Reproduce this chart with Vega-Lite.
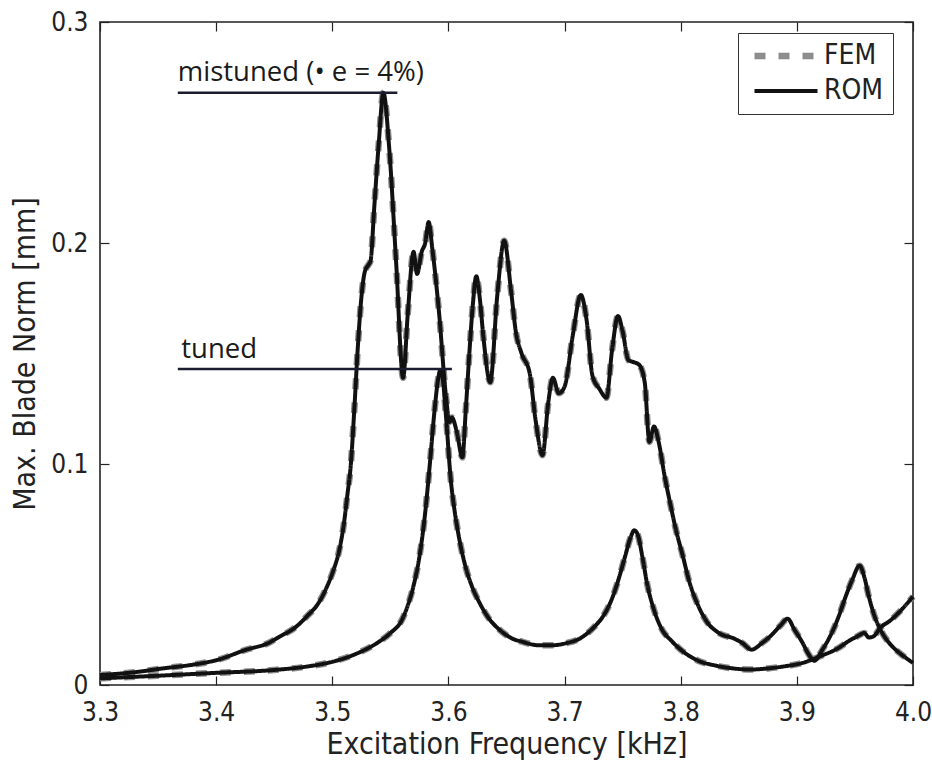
{
  "$schema": "https://vega.github.io/schema/vega-lite/v6.json",
  "width": 813,
  "height": 663,
  "autosize": {"type": "none"},
  "padding": {"left": 100, "top": 22, "right": 19, "bottom": 82},
  "background": "white",
  "config": {
    "view": {"stroke": "#222222", "strokeWidth": 1.6},
    "font": "DejaVu Sans Condensed",
    "axis": {
      "domain": false,
      "grid": false,
      "ticks": true,
      "tickColor": "#222222",
      "tickWidth": 1.2,
      "labelFont": "DejaVu Sans Condensed",
      "labelFontSize": 26,
      "labelColor": "#222222",
      "titleFont": "DejaVu Sans Condensed",
      "titleFontSize": 30,
      "titleFontWeight": "normal",
      "titleColor": "#222222"
    }
  },
  "datasets": {
    "curves": [
      {"curve": "tuned", "f": 3.300, "v": 0.0030},
      {"curve": "tuned", "f": 3.350, "v": 0.0042},
      {"curve": "tuned", "f": 3.400, "v": 0.0055},
      {"curve": "tuned", "f": 3.450, "v": 0.0068},
      {"curve": "tuned", "f": 3.480, "v": 0.0085},
      {"curve": "tuned", "f": 3.500, "v": 0.0105},
      {"curve": "tuned", "f": 3.520, "v": 0.0140},
      {"curve": "tuned", "f": 3.540, "v": 0.0195},
      {"curve": "tuned", "f": 3.550, "v": 0.0235},
      {"curve": "tuned", "f": 3.560, "v": 0.0295},
      {"curve": "tuned", "f": 3.565, "v": 0.0360},
      {"curve": "tuned", "f": 3.570, "v": 0.0450},
      {"curve": "tuned", "f": 3.575, "v": 0.0580},
      {"curve": "tuned", "f": 3.580, "v": 0.0780},
      {"curve": "tuned", "f": 3.584, "v": 0.1000},
      {"curve": "tuned", "f": 3.588, "v": 0.1240},
      {"curve": "tuned", "f": 3.591, "v": 0.1380},
      {"curve": "tuned", "f": 3.593, "v": 0.1425},
      {"curve": "tuned", "f": 3.595, "v": 0.1390},
      {"curve": "tuned", "f": 3.598, "v": 0.1210},
      {"curve": "tuned", "f": 3.602, "v": 0.0930},
      {"curve": "tuned", "f": 3.605, "v": 0.0800},
      {"curve": "tuned", "f": 3.608, "v": 0.0700},
      {"curve": "tuned", "f": 3.615, "v": 0.0530},
      {"curve": "tuned", "f": 3.620, "v": 0.0450},
      {"curve": "tuned", "f": 3.627, "v": 0.0370},
      {"curve": "tuned", "f": 3.635, "v": 0.0300},
      {"curve": "tuned", "f": 3.644, "v": 0.0250},
      {"curve": "tuned", "f": 3.655, "v": 0.0210},
      {"curve": "tuned", "f": 3.664, "v": 0.0195},
      {"curve": "tuned", "f": 3.677, "v": 0.0180},
      {"curve": "tuned", "f": 3.690, "v": 0.0180},
      {"curve": "tuned", "f": 3.702, "v": 0.0190},
      {"curve": "tuned", "f": 3.713, "v": 0.0210},
      {"curve": "tuned", "f": 3.725, "v": 0.0260},
      {"curve": "tuned", "f": 3.733, "v": 0.0310},
      {"curve": "tuned", "f": 3.740, "v": 0.0380},
      {"curve": "tuned", "f": 3.746, "v": 0.0470},
      {"curve": "tuned", "f": 3.752, "v": 0.0580},
      {"curve": "tuned", "f": 3.757, "v": 0.0670},
      {"curve": "tuned", "f": 3.760, "v": 0.0700},
      {"curve": "tuned", "f": 3.763, "v": 0.0680},
      {"curve": "tuned", "f": 3.767, "v": 0.0580},
      {"curve": "tuned", "f": 3.771, "v": 0.0460},
      {"curve": "tuned", "f": 3.777, "v": 0.0340},
      {"curve": "tuned", "f": 3.784, "v": 0.0250},
      {"curve": "tuned", "f": 3.792, "v": 0.0200},
      {"curve": "tuned", "f": 3.800, "v": 0.0160},
      {"curve": "tuned", "f": 3.815, "v": 0.0110},
      {"curve": "tuned", "f": 3.830, "v": 0.0088},
      {"curve": "tuned", "f": 3.845, "v": 0.0075},
      {"curve": "tuned", "f": 3.860, "v": 0.0070},
      {"curve": "tuned", "f": 3.875, "v": 0.0075},
      {"curve": "tuned", "f": 3.890, "v": 0.0085},
      {"curve": "tuned", "f": 3.905, "v": 0.0100},
      {"curve": "tuned", "f": 3.920, "v": 0.0130},
      {"curve": "tuned", "f": 3.935, "v": 0.0165},
      {"curve": "tuned", "f": 3.945, "v": 0.0200},
      {"curve": "tuned", "f": 3.952, "v": 0.0220},
      {"curve": "tuned", "f": 3.958, "v": 0.0235},
      {"curve": "tuned", "f": 3.962, "v": 0.0215},
      {"curve": "tuned", "f": 3.966, "v": 0.0220},
      {"curve": "tuned", "f": 3.972, "v": 0.0260},
      {"curve": "tuned", "f": 3.980, "v": 0.0290},
      {"curve": "tuned", "f": 3.990, "v": 0.0340},
      {"curve": "tuned", "f": 4.000, "v": 0.0400},
      {"curve": "mistuned", "f": 3.300, "v": 0.0045},
      {"curve": "mistuned", "f": 3.330, "v": 0.0058},
      {"curve": "mistuned", "f": 3.354, "v": 0.0075},
      {"curve": "mistuned", "f": 3.380, "v": 0.0092},
      {"curve": "mistuned", "f": 3.400, "v": 0.0112},
      {"curve": "mistuned", "f": 3.426, "v": 0.0160},
      {"curve": "mistuned", "f": 3.445, "v": 0.0190},
      {"curve": "mistuned", "f": 3.455, "v": 0.0220},
      {"curve": "mistuned", "f": 3.468, "v": 0.0260},
      {"curve": "mistuned", "f": 3.478, "v": 0.0310},
      {"curve": "mistuned", "f": 3.488, "v": 0.0370},
      {"curve": "mistuned", "f": 3.495, "v": 0.0440},
      {"curve": "mistuned", "f": 3.501, "v": 0.0520},
      {"curve": "mistuned", "f": 3.506, "v": 0.0610},
      {"curve": "mistuned", "f": 3.510, "v": 0.0730},
      {"curve": "mistuned", "f": 3.513, "v": 0.0860},
      {"curve": "mistuned", "f": 3.516, "v": 0.1000},
      {"curve": "mistuned", "f": 3.519, "v": 0.1250},
      {"curve": "mistuned", "f": 3.522, "v": 0.1530},
      {"curve": "mistuned", "f": 3.525, "v": 0.1750},
      {"curve": "mistuned", "f": 3.528, "v": 0.1870},
      {"curve": "mistuned", "f": 3.531, "v": 0.1900},
      {"curve": "mistuned", "f": 3.533, "v": 0.1920},
      {"curve": "mistuned", "f": 3.536, "v": 0.2150},
      {"curve": "mistuned", "f": 3.540, "v": 0.2450},
      {"curve": "mistuned", "f": 3.544, "v": 0.2680},
      {"curve": "mistuned", "f": 3.549, "v": 0.2430},
      {"curve": "mistuned", "f": 3.555, "v": 0.1910},
      {"curve": "mistuned", "f": 3.561, "v": 0.1390},
      {"curve": "mistuned", "f": 3.565, "v": 0.1680},
      {"curve": "mistuned", "f": 3.570, "v": 0.1960},
      {"curve": "mistuned", "f": 3.573, "v": 0.1860},
      {"curve": "mistuned", "f": 3.577, "v": 0.1960},
      {"curve": "mistuned", "f": 3.580, "v": 0.2000},
      {"curve": "mistuned", "f": 3.583, "v": 0.2095},
      {"curve": "mistuned", "f": 3.586, "v": 0.1980},
      {"curve": "mistuned", "f": 3.592, "v": 0.1680},
      {"curve": "mistuned", "f": 3.598, "v": 0.1300},
      {"curve": "mistuned", "f": 3.601, "v": 0.1190},
      {"curve": "mistuned", "f": 3.603, "v": 0.1210},
      {"curve": "mistuned", "f": 3.607, "v": 0.1150},
      {"curve": "mistuned", "f": 3.612, "v": 0.1030},
      {"curve": "mistuned", "f": 3.615, "v": 0.1250},
      {"curve": "mistuned", "f": 3.618, "v": 0.1500},
      {"curve": "mistuned", "f": 3.621, "v": 0.1720},
      {"curve": "mistuned", "f": 3.624, "v": 0.1850},
      {"curve": "mistuned", "f": 3.627, "v": 0.1750},
      {"curve": "mistuned", "f": 3.630, "v": 0.1580},
      {"curve": "mistuned", "f": 3.636, "v": 0.1370},
      {"curve": "mistuned", "f": 3.642, "v": 0.1760},
      {"curve": "mistuned", "f": 3.648, "v": 0.2010},
      {"curve": "mistuned", "f": 3.654, "v": 0.1780},
      {"curve": "mistuned", "f": 3.658, "v": 0.1600},
      {"curve": "mistuned", "f": 3.663, "v": 0.1500},
      {"curve": "mistuned", "f": 3.670, "v": 0.1410},
      {"curve": "mistuned", "f": 3.675, "v": 0.1200},
      {"curve": "mistuned", "f": 3.681, "v": 0.1040},
      {"curve": "mistuned", "f": 3.686, "v": 0.1280},
      {"curve": "mistuned", "f": 3.690, "v": 0.1390},
      {"curve": "mistuned", "f": 3.695, "v": 0.1320},
      {"curve": "mistuned", "f": 3.700, "v": 0.1350},
      {"curve": "mistuned", "f": 3.707, "v": 0.1580},
      {"curve": "mistuned", "f": 3.714, "v": 0.1765},
      {"curve": "mistuned", "f": 3.719, "v": 0.1650},
      {"curve": "mistuned", "f": 3.724, "v": 0.1400},
      {"curve": "mistuned", "f": 3.730, "v": 0.1340},
      {"curve": "mistuned", "f": 3.736, "v": 0.1300},
      {"curve": "mistuned", "f": 3.741, "v": 0.1520},
      {"curve": "mistuned", "f": 3.746, "v": 0.1670},
      {"curve": "mistuned", "f": 3.750, "v": 0.1600},
      {"curve": "mistuned", "f": 3.755, "v": 0.1470},
      {"curve": "mistuned", "f": 3.760, "v": 0.1460},
      {"curve": "mistuned", "f": 3.764, "v": 0.1450},
      {"curve": "mistuned", "f": 3.769, "v": 0.1370},
      {"curve": "mistuned", "f": 3.773, "v": 0.1100},
      {"curve": "mistuned", "f": 3.777, "v": 0.1170},
      {"curve": "mistuned", "f": 3.781, "v": 0.1100},
      {"curve": "mistuned", "f": 3.786, "v": 0.0950},
      {"curve": "mistuned", "f": 3.791, "v": 0.0820},
      {"curve": "mistuned", "f": 3.796, "v": 0.0700},
      {"curve": "mistuned", "f": 3.802, "v": 0.0580},
      {"curve": "mistuned", "f": 3.807, "v": 0.0475},
      {"curve": "mistuned", "f": 3.815, "v": 0.0360},
      {"curve": "mistuned", "f": 3.822, "v": 0.0290},
      {"curve": "mistuned", "f": 3.833, "v": 0.0235},
      {"curve": "mistuned", "f": 3.846, "v": 0.0210},
      {"curve": "mistuned", "f": 3.853, "v": 0.0190},
      {"curve": "mistuned", "f": 3.861, "v": 0.0160},
      {"curve": "mistuned", "f": 3.870, "v": 0.0190},
      {"curve": "mistuned", "f": 3.878, "v": 0.0225},
      {"curve": "mistuned", "f": 3.886, "v": 0.0270},
      {"curve": "mistuned", "f": 3.892, "v": 0.0300},
      {"curve": "mistuned", "f": 3.898, "v": 0.0250},
      {"curve": "mistuned", "f": 3.905, "v": 0.0190},
      {"curve": "mistuned", "f": 3.910, "v": 0.0140},
      {"curve": "mistuned", "f": 3.915, "v": 0.0110},
      {"curve": "mistuned", "f": 3.922, "v": 0.0160},
      {"curve": "mistuned", "f": 3.930, "v": 0.0235},
      {"curve": "mistuned", "f": 3.936, "v": 0.0310},
      {"curve": "mistuned", "f": 3.942, "v": 0.0400},
      {"curve": "mistuned", "f": 3.948, "v": 0.0480},
      {"curve": "mistuned", "f": 3.954, "v": 0.0540},
      {"curve": "mistuned", "f": 3.958, "v": 0.0490},
      {"curve": "mistuned", "f": 3.962, "v": 0.0400},
      {"curve": "mistuned", "f": 3.967, "v": 0.0310},
      {"curve": "mistuned", "f": 3.972, "v": 0.0250},
      {"curve": "mistuned", "f": 3.978, "v": 0.0200},
      {"curve": "mistuned", "f": 3.985, "v": 0.0160},
      {"curve": "mistuned", "f": 3.992, "v": 0.0130},
      {"curve": "mistuned", "f": 4.000, "v": 0.0100}
    ],
    "notes": [
      {"label": "mistuned (• e = 4%)", "x1": 3.367, "x2": 3.556, "y": 0.268, "tx": 3.367, "ty": 0.2735},
      {"label": "tuned", "x1": 3.367, "x2": 3.603, "y": 0.143, "tx": 3.370, "ty": 0.148}
    ]
  },
  "layer": [
    {
      "data": {"name": "curves"},
      "mark": {"type": "line", "interpolate": "monotone", "strokeCap": "butt"},
      "encoding": {
        "x": {
          "field": "f", "type": "quantitative",
          "scale": {"domain": [3.3, 4.0], "nice": false, "zero": false},
          "axis": {
            "orient": "bottom",
            "values": [3.3, 3.4, 3.5, 3.6, 3.7, 3.8, 3.9, 4.0],
            "format": ".1f",
            "tickSize": -9,
            "labelPadding": 23,
            "labelFlush": false,
            "title": "Excitation Frequency [kHz]",
            "titlePadding": 4
          }
        },
        "y": {
          "field": "v", "type": "quantitative",
          "scale": {"domain": [0, 0.3], "nice": false},
          "axis": {
            "orient": "left",
            "values": [0, 0.1, 0.2, 0.3],
            "format": ".1~f",
            "tickSize": -9,
            "labelPadding": 21,
            "labelFlush": false,
            "title": "Max. Blade Norm [mm]",
            "titlePadding": 10
          }
        },
        "detail": {"field": "curve"},
        "color": {
          "datum": "FEM",
          "scale": {"domain": ["FEM", "ROM"], "range": ["#8c8c8c", "#111111"]},
          "legend": {
            "title": null,
            "orient": "none",
            "legendX": 638,
            "legendY": 11,
            "strokeColor": "#333333",
            "fillColor": "white",
            "padding": 9,
            "labelFont": "DejaVu Sans Condensed",
            "labelFontSize": 28,
            "labelColor": "#222222",
            "symbolType": "M-1,0H5",
            "symbolSize": 441,
            "symbolOffset": 4,
            "rowPadding": 7,
            "labelOffset": 45
          }
        },
        "strokeDash": {
          "datum": "FEM",
          "scale": {"domain": ["FEM", "ROM"], "range": [[11, 13], [1, 0]]},
          "legend": {"title": null}
        },
        "strokeWidth": {
          "datum": "FEM", "type": "ordinal",
          "scale": {"domain": ["FEM", "ROM"], "range": [6.5, 4]},
          "legend": {"title": null}
        }
      }
    },
    {
      "data": {"name": "curves"},
      "mark": {"type": "line", "interpolate": "monotone"},
      "encoding": {
        "x": {
          "field": "f", "type": "quantitative",
          "axis": {"orient": "top", "values": [3.3, 3.4, 3.5, 3.6, 3.7, 3.8, 3.9, 4.0], "labels": false, "tickSize": -9, "title": null}
        },
        "y": {
          "field": "v", "type": "quantitative",
          "axis": {"orient": "right", "values": [0, 0.1, 0.2, 0.3], "labels": false, "tickSize": -9, "title": null}
        },
        "detail": {"field": "curve"},
        "color": {"datum": "ROM"},
        "strokeDash": {"datum": "ROM"},
        "strokeWidth": {"datum": "ROM", "type": "ordinal"}
      }
    },
    {
      "data": {"name": "notes"},
      "mark": {"type": "rule", "color": "#1c1c30", "strokeWidth": 2.5},
      "encoding": {
        "x": {"field": "x1", "type": "quantitative", "axis": null},
        "x2": {"field": "x2"},
        "y": {"field": "y", "type": "quantitative", "axis": null}
      }
    },
    {
      "data": {"name": "notes"},
      "mark": {"type": "text", "align": "left", "baseline": "alphabetic", "font": "Open Sans", "fontSize": 27.5, "color": "#1a1a1a"},
      "encoding": {
        "x": {"field": "tx", "type": "quantitative", "axis": null},
        "y": {"field": "ty", "type": "quantitative", "axis": null},
        "text": {"field": "label"}
      }
    }
  ],
  "resolve": {"axis": {"x": "independent", "y": "independent"}}
}
